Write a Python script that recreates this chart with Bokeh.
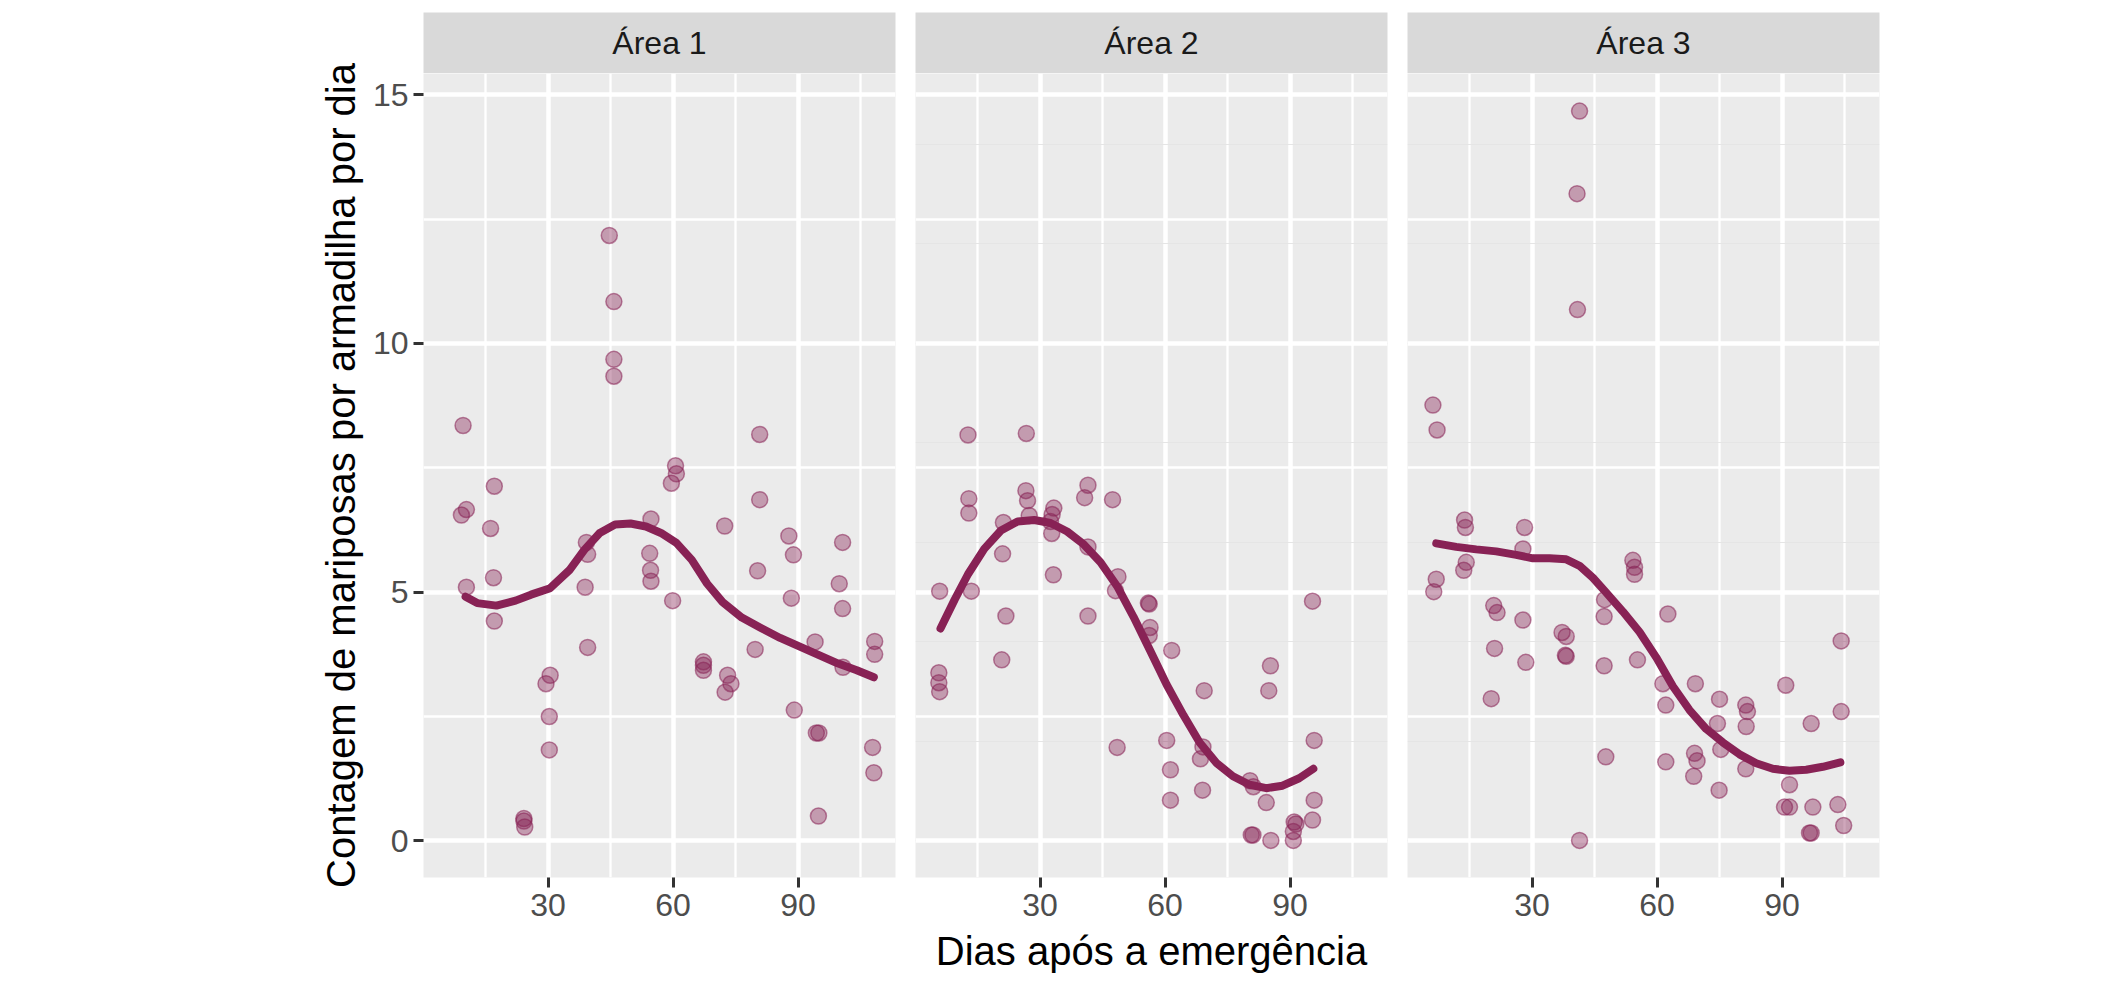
from bokeh.plotting import figure
from bokeh.layouts import row, column
from bokeh.models import Range1d, FixedTicker, Grid
from bokeh.embed import file_html
from bokeh.resources import INLINE
from bokeh.core.properties import value
import math

# ---------------- data ----------------
areas = ["Área 1", "Área 2", "Área 3"]

a1_x = [9.2, 10.4, 10.4, 9.6, 17.1, 16.2, 16.9, 17.1, 24.2, 24.2, 24.4, 30.5, 29.5, 30.3, 30.3,
        39.2, 39.5, 38.9, 39.5, 44.7, 45.8, 45.8, 45.8, 54.7, 54.4, 54.6, 54.7, 59.9, 59.6, 60.6,
        60.8, 67.3, 67.3, 67.3, 72.4, 73.1, 73.9, 72.5, 80.8, 80.8, 80.3, 79.7, 87.8, 88.9, 88.4,
        89.1, 94.1, 94.4, 95.0, 94.9, 100.7, 99.9, 100.7, 100.8, 108.4, 108.4, 107.9, 108.2]
a1_y = [6.55, 6.66, 5.10, 8.35, 7.13, 6.28, 5.29, 4.42, 0.45, 0.40, 0.28, 3.33, 3.16, 2.50, 1.83,
        6.00, 5.76, 5.10, 3.89, 12.17, 10.84, 9.68, 9.34, 6.47, 5.78, 5.44, 5.22, 4.83, 7.19, 7.54,
        7.38, 3.60, 3.53, 3.43, 6.33, 3.33, 3.16, 2.99, 8.17, 6.86, 5.43, 3.85, 6.13, 5.75, 4.88,
        2.63, 4.00, 2.17, 2.17, 0.50, 6.00, 5.17, 4.67, 3.49, 4.01, 3.75, 1.88, 1.37]

a2_x = [5.9, 5.7, 5.7, 5.9, 12.7, 12.9, 12.9, 13.5, 21.2, 21.0, 21.8, 20.8, 26.7, 26.6, 27.0,
        27.4, 33.3, 32.9, 32.5, 32.8, 33.2, 41.5, 40.7, 41.5, 41.5, 47.4, 48.7, 48.1, 48.5, 56.0,
        56.2, 56.4, 56.2, 61.6, 60.4, 61.3, 61.3, 69.4, 69.1, 68.5, 69.0, 85.3, 84.9, 80.4, 81.2,
        80.7, 81.1, 84.3, 85.4, 91.0, 91.4, 90.8, 90.8, 95.4, 95.8, 95.8, 95.4]
a2_y = [5.02, 3.38, 3.18, 3.00, 8.16, 6.88, 6.59, 5.02, 6.40, 5.77, 4.52, 3.64, 8.19, 7.04, 6.84,
        6.54, 6.69, 6.56, 6.42, 6.18, 5.35, 7.15, 6.90, 5.91, 4.52, 6.86, 5.31, 5.03, 1.88, 4.78,
        4.76, 4.29, 4.13, 3.83, 2.02, 1.43, 0.82, 3.02, 1.89, 1.65, 1.02, 3.52, 3.02, 1.21, 1.09,
        0.12, 0.12, 0.77, 0.01, 0.38, 0.34, 0.19, 0.01, 4.82, 2.02, 0.82, 0.42]

a3_x = [6.2, 7.2, 7.0, 6.4, 13.8, 14.0, 14.2, 13.6, 20.8, 21.6, 21.0, 20.2, 28.2, 27.8, 27.8,
        28.5, 37.2, 38.2, 38.0, 38.2, 41.4, 40.8, 40.9, 41.4, 47.4, 47.3, 47.3, 47.7, 54.2, 54.6,
        54.6, 55.3, 62.6, 61.4, 62.1, 62.1, 69.2, 69.0, 69.6, 68.8, 75.0, 74.5, 75.3, 74.9, 81.3,
        81.7, 81.4, 81.3, 90.9, 91.8, 90.6, 91.8, 97.0, 97.4, 96.6, 97.0, 104.2, 104.2, 103.4, 104.8]
a3_y = [8.76, 8.26, 5.26, 5.01, 6.45, 6.30, 5.60, 5.44, 4.73, 4.59, 3.87, 2.86, 6.30, 5.87, 4.44,
        3.59, 4.19, 4.11, 3.73, 3.71, 14.67, 13.01, 10.68, 0.01, 4.85, 4.51, 3.52, 1.69, 5.64, 5.50,
        5.36, 3.64, 4.56, 3.16, 2.73, 1.59, 3.16, 1.76, 1.61, 1.30, 2.85, 2.36, 1.84, 1.02, 2.73,
        2.60, 2.30, 1.45, 3.13, 1.13, 0.68, 0.68, 2.36, 0.68, 0.16, 0.16, 4.02, 2.60, 0.73, 0.31]

# smoothed (loess) curves
fit1_x = [10.2, 13.0, 17.6, 22.2, 25.9, 30.5, 35.1, 38.7, 42.4, 46.1, 49.8, 53.5, 57.1, 60.8,
          64.5, 68.2, 71.9, 76.5, 81.1, 85.7, 90.3, 94.9, 99.5, 104.1, 108.2]
fit1_y = [4.91, 4.78, 4.73, 4.83, 4.95, 5.08, 5.44, 5.85, 6.19, 6.36, 6.38, 6.32, 6.19, 5.99,
          5.65, 5.17, 4.80, 4.49, 4.28, 4.08, 3.91, 3.74, 3.57, 3.43, 3.29]

fit2_x = [6.1, 9.5, 12.7, 16.6, 20.6, 24.6, 28.6, 32.5, 36.5, 40.5, 44.5, 48.5, 52.4, 56.4,
          60.4, 64.4, 68.3, 72.3, 76.3, 80.3, 84.3, 88.2, 92.2, 95.6]
fit2_y = [4.27, 4.85, 5.36, 5.87, 6.24, 6.42, 6.45, 6.39, 6.22, 5.96, 5.60, 5.12, 4.51, 3.83,
          3.14, 2.53, 1.98, 1.57, 1.30, 1.13, 1.06, 1.11, 1.26, 1.45]

fit3_x = [7.0, 11.8, 16.6, 21.4, 26.2, 30.2, 34.2, 38.2, 41.4, 44.6, 47.8, 51.8, 55.8, 59.8,
          63.8, 67.8, 71.8, 75.8, 79.8, 83.8, 87.8, 91.8, 95.8, 99.8, 104.0]
fit3_y = [5.98, 5.91, 5.86, 5.82, 5.75, 5.68, 5.68, 5.66, 5.53, 5.29, 4.99, 4.61, 4.20, 3.69,
          3.11, 2.63, 2.25, 1.98, 1.74, 1.56, 1.45, 1.41, 1.43, 1.49, 1.58]

x_ticks = [30, 60, 90]
x_minor = [15, 45, 75, 105]
y_ticks = [0, 5, 10, 15]
y_minor = [2.5, 7.5, 12.5]

y_title = "Contagem de mariposas por armadilha por dia"
x_title = "Dias após a emergência"

# ---------------- styling / layout ----------------
FONT = "Liberation Sans"
COL = "#882255"
X0, X1 = 0.1, 113.4
Y0, Y1 = -0.735, 15.425
FRAME_W = 472
PANEL_H = 804
STRIP_H = 61
TOP = 12
BOTTOM = 92
TITLE_W = 365
TITLE_X = 340
LEFT1 = 423 - TITLE_W
GAP = 10
TOTAL_H = TOP + STRIP_H + PANEL_H + BOTTOM

series = [(a1_x, a1_y, fit1_x, fit1_y), (a2_x, a2_y, fit2_x, fit2_y), (a3_x, a3_y, fit3_x, fit3_y)]


def borders(i):
    return dict(min_border_left=LEFT1 if i == 0 else GAP,
                min_border_right=GAP if i < 2 else 20)


def style_grid(g):
    g.grid_line_color = "white"
    g.grid_line_width = 4.5
    g.minor_grid_line_color = "white"
    g.minor_grid_line_width = 2.3


def style_axis(ax):
    ax.axis_line_color = None
    ax.major_tick_line_color = "#333333"
    ax.major_tick_line_width = 3
    ax.major_tick_out = 10
    ax.major_tick_in = 0
    ax.minor_tick_out = 0
    ax.minor_tick_in = 0
    ax.major_label_text_font = FONT
    ax.major_label_text_font_size = "32px"
    ax.major_label_text_color = "#4D4D4D"
    ax.axis_label_text_font = FONT
    ax.axis_label_text_font_size = "40px"
    ax.axis_label_text_font_style = "normal"
    ax.axis_label_text_color = "black"


# y-axis title column (spans the full height so the long title is not cut)
t = figure(frame_width=TITLE_W, frame_height=TOTAL_H,
           x_range=Range1d(0, TITLE_W), y_range=Range1d(0, TOTAL_H),
           x_axis_location=None, y_axis_location=None,
           output_backend="svg", toolbar_location=None,
           min_border_left=0, min_border_right=0, min_border_top=0, min_border_bottom=0)
t.background_fill_color = "white"
t.border_fill_color = "white"
t.outline_line_color = None
t.grid.visible = False
t.text(x=[TITLE_X], y=[TOTAL_H - (TOP + STRIP_H + PANEL_H / 2)], text=[y_title],
       angle=math.pi / 2, text_align="center", text_baseline="middle",
       text_font=value(FONT), text_font_size="40px", text_color="black")

strips = []
panels = []
for i, (xs, ys, fx, fy) in enumerate(series):
    first = i == 0

    # facet strip
    s = figure(frame_width=FRAME_W, frame_height=STRIP_H,
               x_range=Range1d(0, 1), y_range=Range1d(0, 1),
               x_axis_location=None, y_axis_location=None,
               output_backend="svg", toolbar_location=None,
               min_border_top=TOP, min_border_bottom=0, **borders(i))
    s.background_fill_color = "#D9D9D9"
    s.border_fill_color = "white"
    s.outline_line_color = None
    s.grid.visible = False
    s.text(x=[0.5], y=[0.5], text=[areas[i]], text_align="center",
           text_baseline="middle", text_font=value(FONT), text_font_size="32px",
           text_color="#1A1A1A")
    strips.append(s)

    # panel
    p = figure(frame_width=FRAME_W, frame_height=PANEL_H,
               x_range=Range1d(X0, X1), y_range=Range1d(Y0, Y1),
               output_backend="svg", toolbar_location=None,
               y_axis_location="left" if first else None,
               min_border_top=0, min_border_bottom=BOTTOM, **borders(i))
    p.background_fill_color = "#EBEBEB"
    p.border_fill_color = "white"
    p.outline_line_color = None

    xa = p.xaxis[0]
    xa.ticker = FixedTicker(ticks=x_ticks)
    style_axis(xa)
    xa.major_label_standoff = 6
    if i == 1:
        xa.axis_label = x_title
        xa.axis_label_standoff = 10

    xg = p.xgrid[0]
    xg.ticker = FixedTicker(ticks=x_ticks, minor_ticks=x_minor)
    style_grid(xg)

    if first:
        ya = p.yaxis[0]
        ya.ticker = FixedTicker(ticks=y_ticks)
        style_axis(ya)
        ya.major_label_standoff = 5
        yg = p.ygrid[0]
    else:
        yg = Grid(dimension=1)
        p.add_layout(yg)
    yg.ticker = FixedTicker(ticks=y_ticks, minor_ticks=y_minor)
    style_grid(yg)

    p.scatter(xs, ys, size=16, fill_color=COL, fill_alpha=0.4, line_color=COL,
              line_alpha=0.55, line_width=1.5)
    p.line(fx, fy, line_color=COL, line_width=8, line_join="round", line_cap="round")
    panels.append(p)

grid = column(row(*strips, spacing=0), row(*panels, spacing=0), spacing=0)
layout = row(t, grid, spacing=0)
open("out.html", "w").write(file_html(layout, INLINE))
